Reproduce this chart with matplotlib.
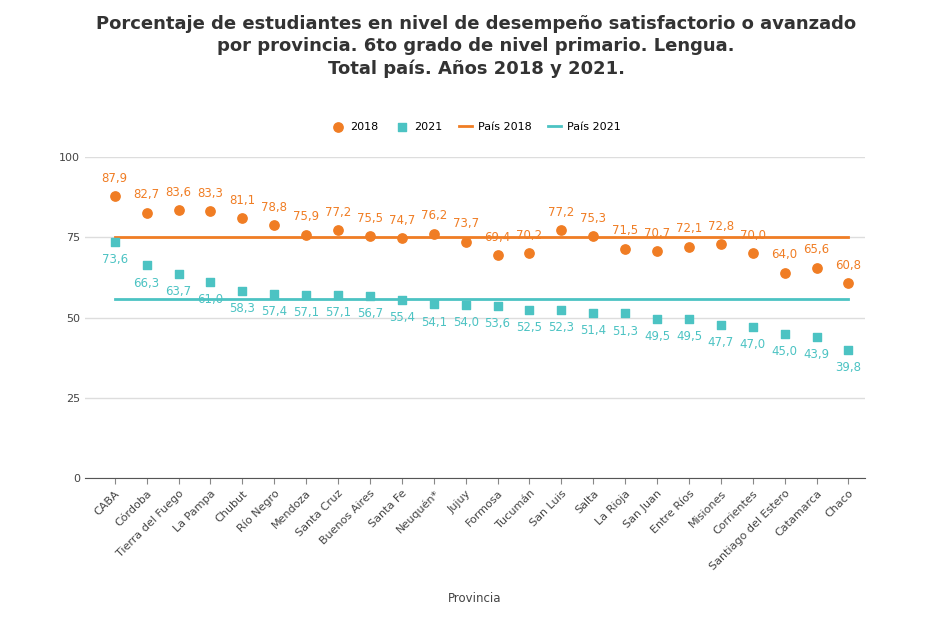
import matplotlib.pyplot as plt

provincias = ['CABA', 'Córdoba', 'Tierra del Fuego', 'La Pampa', 'Chubut', 'Río Negro',
              'Mendoza', 'Santa Cruz', 'Buenos Aires', 'Santa Fe', 'Neuquén*', 'Jujuy',
              'Formosa', 'Tucumán', 'San Luis', 'Salta', 'La Rioja', 'San Juan',
              'Entre Ríos', 'Misiones', 'Corrientes', 'Santiago del Estero', 'Catamarca', 'Chaco']
v2018 = [87.9, 82.7, 83.6, 83.3, 81.1, 78.8, 75.9, 77.2, 75.5, 74.7, 76.2, 73.7,
         69.4, 70.2, 77.2, 75.3, 71.5, 70.7, 72.1, 72.8, 70.0, 64.0, 65.6, 60.8]
v2021 = [73.6, 66.3, 63.7, 61.0, 58.3, 57.4, 57.1, 57.1, 56.7, 55.4, 54.1, 54.0,
         53.6, 52.5, 52.3, 51.4, 51.3, 49.5, 49.5, 47.7, 47.0, 45.0, 43.9, 39.8]
pais2018 = 75.2
pais2021 = 55.8

c18 = '#f07d24'
c21 = '#4cc3c3'

fig = plt.figure(figsize=(9.52, 6.19), dpi=100)
ax = fig.add_axes([0.089, 0.228, 0.82, 0.518])
x = list(range(len(provincias)))

ax.plot([0, len(x) - 1], [pais2018] * 2, color=c18, lw=2, label='País 2018', zorder=2)
ax.plot([0, len(x) - 1], [pais2021] * 2, color=c21, lw=2, label='País 2021', zorder=2)
ax.scatter(x, v2018, color=c18, s=45, marker='o', label='2018', zorder=3)
ax.scatter(x, v2021, color=c21, s=38, marker='s', label='2021', zorder=3)

def fmt(v):
    return f'{v:.1f}'.replace('.', ',')

for i in x:
    ax.text(i, v2018[i] + 3.5, fmt(v2018[i]), color=c18, ha='center', va='bottom', fontsize=8.5)
    ax.text(i, v2021[i] - 3.5, fmt(v2021[i]), color=c21, ha='center', va='top', fontsize=8.5)

ax.set_ylim(0, 100)
ax.set_xlim(-0.94, len(x) - 1 + 0.53)
ax.set_yticks([0, 25, 50, 75, 100])
ax.tick_params(axis='y', length=0, labelsize=8, colors='#444444')
ax.set_xticks(x)
ax.set_xticklabels(provincias, rotation=45, ha='right', rotation_mode='anchor', fontsize=8, color='#444444')
ax.tick_params(axis='x', length=4, color='#888888')
ax.grid(axis='y', color='#dddddd', lw=1)
ax.set_axisbelow(True)
for s in ['top', 'right', 'left']:
    ax.spines[s].set_visible(False)
ax.spines['bottom'].set_color('#555555')
ax.set_xlabel('Provincia', fontsize=8.5, color='#444444', labelpad=14)

handles, labels = ax.get_legend_handles_labels()
order = [2, 3, 0, 1]
fig.legend([handles[i] for i in order], [labels[i] for i in order], loc='center',
           bbox_to_anchor=(0.5, 0.795), ncol=4, frameon=False, fontsize=8,
           handlelength=1.2, columnspacing=1.5, handletextpad=0.5)

fig.text(0.5, 0.925, 'Porcentaje de estudiantes en nivel de desempeño satisfactorio o avanzado\n'
         'por provincia. 6to grado de nivel primario. Lengua.\nTotal país. Años 2018 y 2021.',
         ha='center', va='center', fontsize=13, fontweight='bold', color='#333333', linespacing=1.3)

fig.savefig('out.png', dpi=100, facecolor='white')
